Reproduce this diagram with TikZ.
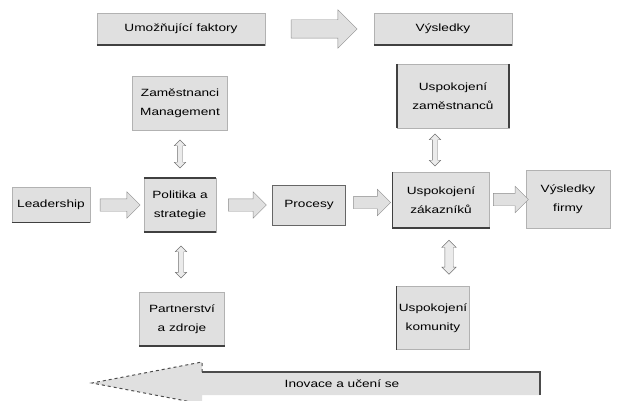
\documentclass[tikz,border=0pt]{standalone}
\usepackage{fontspec}
\setmainfont{Liberation Sans}[FakeStretch=1.3]
\usetikzlibrary{calc}
\usetikzlibrary{shapes.arrows}

\tikzset{
  box/.style={draw=black!30, fill=black!12, align=center, inner sep=1pt,
              font=\fontsize{10.5}{19}\selectfont},
  edge/.style={draw=black!75, line width=1.5pt},
  harrow/.style={single arrow, draw=black!45, fill=black!12, inner xsep=0pt,
                 inner ysep=6pt, single arrow head extend=7pt},
  varrow/.style={double arrow, draw=black!55, fill=black!8, rotate=90,
                 inner xsep=0pt, inner ysep=2.5pt, double arrow head extend=3pt}
}

\begin{document}
\begin{tikzpicture}[x=1pt, y=-1pt]
        \useasboundingbox (0,0) rectangle (621,401);

        % header row
        \node[box, minimum width=168pt, minimum height=32pt] (enab) at (181,29) {Umožňující faktory};
        \node[box, minimum width=138pt, minimum height=32pt] (vysl) at (443,29) {Výsledky};
        \node[harrow, minimum height=66pt, inner ysep=9pt, single arrow head extend=10pt]
            (tarr) at ($(enab.east)!0.5!(vysl.west)$) {};

        % boxes
        \node[box, minimum width=95pt, minimum height=54pt] (zam) at (180,103) {Zaměstnanci\\Management};
        \node[box, minimum width=112pt, minimum height=64pt] (uzam) at (453,96) {Uspokojení\\zaměstnanců};
        \node[box, minimum width=78pt, minimum height=35pt] (lead) at (51,205) {Leadership};
        \node[box, minimum width=72pt, minimum height=54pt] (pol) at (180,205) {Politika a\\strategie};
        \node[box, draw=black!60, minimum width=73pt, minimum height=40pt] (proc) at (309,205) {Procesy};
        \node[box, minimum width=97pt, minimum height=56pt] (uzak) at (441,200) {Uspokojení\\zákazníků};
        \node[box, minimum width=84pt, minimum height=58pt] (vfir) at (568,199) {Výsledky\\firmy};
        \node[box, minimum width=85pt, minimum height=54pt] (part) at (182,319) {Partnerství\\a zdroje};
        \node[box, minimum width=73pt, minimum height=63pt] (ukom) at (433,318) {Uspokojení\\komunity};

        % darker edges
        \draw[edge] (enab.south west) -- (enab.south east);
        \draw[edge] (vysl.south west) -- (vysl.south east);
        \draw[edge] (lead.south west) -- (lead.south east);
        \draw[edge] (pol.north west) -- (pol.north east);
        \draw[edge] (pol.south west) -- (pol.south east);
        \draw[edge] (uzam.north west) -- (uzam.south west);
        \draw[edge] (uzam.north east) -- (uzam.south east);
        \draw[edge] (uzak.north west) -- (uzak.south west) -- (uzak.south east);
        \draw[edge] (part.south west) -- (part.south east);
        \draw[edge] (ukom.north west) -- (ukom.south west);

        % flow arrows
        \node[harrow, minimum height=40pt] (a1) at ($(lead.east)!0.5!(pol.west)$) {};
        \node[harrow, minimum height=38pt] (a2) at ($(pol.east)!0.5!(proc.west)$) {};
        \node[harrow, minimum height=37pt] (a3) at ($(proc.east)!0.5!(uzak.west)$) {};
        \node[harrow, minimum height=35pt] (a4) at ($(uzak.east)!0.5!(vfir.west)$) {};

        % links up and down
        \node[varrow, minimum height=28pt] (v1) at ($(zam.south)!0.5!(pol.north)$) {};
        \node[varrow, minimum height=32pt] (v2) at ($(pol.south)!0.5!(part.north)$) {};
        \node[varrow, minimum height=32pt] (v3) at ($(uzam.south)!0.5!(uzak.north)-(12,0)$) {};
        \node[varrow, minimum height=34pt, inner ysep=4pt] (v4) at ($(uzak.south)!0.5!(ukom.north)+(12,0)$) {};

        % learning arrow along the bottom
        \coordinate (tip) at (92,383);
        \fill[black!12] (540,372) -- (202,372) -- (202,362) -- (tip) -- (202,404) -- (202,395) -- (540,395) -- cycle;
        \draw[black!70, line width=1.2pt] (202,372) -- (540,372) -- (540,395);
        \draw[black!70, dashed, line width=1pt] (202,372) -- (202,362) -- (tip) -- (202,404);
        \node[font=\fontsize{10.5}{13}\selectfont] (learn) at (342,384) {Inovace a učení se};
    \end{tikzpicture}
\end{document}
